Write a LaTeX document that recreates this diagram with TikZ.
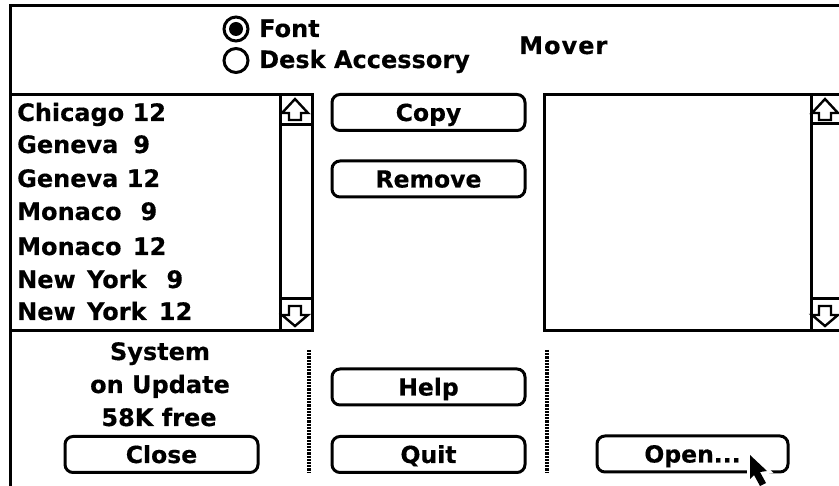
\documentclass[tikz,border=0pt]{standalone}
\usepackage{fontspec}
\setmainfont{DejaVu Sans}[BoldFont={DejaVu Sans Bold},BoldFeatures={FakeBold=0.4}]
\tikzset{
  ink/.style={draw=black,line width=3pt,outer sep=0pt},
  lbl/.style={inner sep=0pt,font=\fontsize{24}{28}\selectfont\bfseries,text=black},
  left lbl/.style={lbl,anchor=base west},
  mid lbl/.style={lbl,anchor=base},
  btn/.style={ink,rounded corners=8pt,minimum width=193pt,minimum height=36pt,inner sep=0pt,
    font=\fontsize{23.5}{28}\selectfont\bfseries,text height=17pt,text depth=0pt,anchor=center},
  radio/.style={circle,ink,minimum size=24pt,inner sep=0pt},
  panel/.style={ink,rectangle,inner sep=0pt,anchor=north west},
  dots/.style={draw=black,line width=3.2pt,dash pattern=on 2.2pt off 1pt},
  arrowicon/.style={draw=black,line width=2.4pt,fill=white,line join=miter},
}
\begin{document}
\begin{tikzpicture}[x=1pt,y=-1pt]
\useasboundingbox (0,0) rectangle (839,486);
\fill[white] (0,0) rectangle (839,486);
\clip (0,0) rectangle (839,486);
% window
\coordinate (wtl) at (10,6);
\coordinate (wtr) at (845,6);
\coordinate (wbl) at (10,490);
\draw[ink] (wbl) -- (wtl) -- (wtr);
% lists
\node[panel,minimum width=302pt,minimum height=236pt] (leftlist) at (10,95) {};
\node[panel,minimum width=32pt,minimum height=236pt] (leftbar) at (280,95) {};
\node[panel,minimum width=32pt,minimum height=30pt] (leftup) at (280,95) {};
\node[panel,minimum width=32pt,minimum height=32pt] (leftdown) at (280,299) {};
\node[panel,minimum width=310pt,minimum height=236pt] (rightlist) at (544,95) {};
\node[panel,minimum width=40pt,minimum height=236pt] (rightbar) at (811,95) {};
\node[panel,minimum width=40pt,minimum height=29pt] (rightup) at (811,95) {};
\node[panel,minimum width=40pt,minimum height=32pt] (rightdown) at (811,299) {};
% scroll arrows
\draw[arrowicon] (295,99) -- (308,113) -- (301,113) -- (301,120) -- (289,120) -- (289,113) -- (282,113) -- cycle;
\draw[arrowicon] (295,326) -- (308,315) -- (301,315) -- (301,306) -- (289,306) -- (289,315) -- (282,315) -- cycle;
\draw[arrowicon] (825,99) -- (838,113) -- (831,113) -- (831,120) -- (819,120) -- (819,113) -- (812,113) -- cycle;
\draw[arrowicon] (825,326) -- (838,315) -- (831,315) -- (831,306) -- (819,306) -- (819,315) -- (812,315) -- cycle;
% radios
\node[radio] (rfont) at (236,29) {};
\fill[black] (rfont.center) circle (7pt);
\node[radio] (rdesk) at (236,60.5) {};
\node[left lbl] (tfont) at (259,37) {Font};
\node[left lbl] (tdesk) at (259,68) {Desk Accessory};
\node[left lbl] (tmover) at (519,54) {M\kern1pt o\kern1pt v\kern1pt e\kern1pt r};
% list entries
\node[left lbl] (i1) at (17,121) {Chicago 12};
\node[left lbl] (i2) at (17,153) {Geneva\kern15pt 9};
\node[left lbl] (i3) at (17,187) {Geneva 12};
\node[left lbl] (i4) at (17,220) {Monaco\kern19pt 9};
\node[left lbl] (i5) at (17,255) {Monaco\kern3pt{} 12};
\node[left lbl] (i6) at (17,288) {New\kern3pt{} York\kern20pt 9};
\node[left lbl] (i7) at (17,320) {New\kern3pt{} York\kern4pt{} 12};
% status
\node[mid lbl] (s1) at (160,360) {System};
\node[mid lbl] (s2) at (160,393) {on Update};
\node[mid lbl] (s3) at (159,426) {58K free};
% buttons
\node[btn] (copy) at (428.5,112.5) {Copy};
\node[btn] (remove) at (428.5,179) {Remove};
\node[btn] (help) at (428.5,387) {Help};
\node[btn] (quit) at (428.5,454.5) {Quit};
\node[btn] (close) at (161.5,454.5) {Close};
\node[btn,minimum width=191pt] (open) at (692.5,454) {Open...};
% separators
\coordinate (d1a) at (309,350);
\coordinate (d1b) at (309,473);
\coordinate (d2a) at (547,350);
\coordinate (d2b) at (547,473);
\draw[dots] (d1a) -- (d1b);
\draw[dots] (d2a) -- (d2b);
% cursor
\draw[white,line width=6pt,line join=miter] (750,455) -- (767,471) -- (760,472) -- (766,483) -- (760,486) -- (754,475) -- (750,479) -- cycle;
\fill[black] (750,455) -- (767,471) -- (760,472) -- (766,483) -- (760,486) -- (754,475) -- (750,479) -- cycle;
\end{tikzpicture}
\end{document}
